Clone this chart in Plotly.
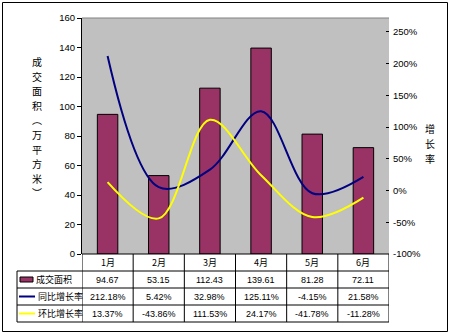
import plotly.graph_objects as go

months = ["1月", "2月", "3月", "4月", "5月", "6月"]
area = [94.67, 53.15, 112.43, 139.61, 81.28, 72.11]
yoy = [212.18, 5.42, 32.98, 125.11, -4.15, 21.58]
mom = [13.37, -43.86, 111.53, 24.17, -41.78, -11.28]
row_names = ["成交面积", "同比增长率", "环比增长率"]
left_title = "成交面积︵万平方米︶"
right_title = "增长率"
left_ticks = [0, 20, 40, 60, 80, 100, 120, 140, 160]
right_ticks = [-100, -50, 0, 50, 100, 150, 200, 250]

W, H = 450, 336
ML, MR, MT, MB = 82, 61, 18, 82
PW, PH = W - ML - MR, H - MT - MB

def px(p):
    return (p - ML) / PW

def py(p):
    return (H - MB - p) / PH

FONT = "Liberation Sans, Arial, Noto Sans CJK SC"
CJK = "Noto Sans CJK SC, Liberation Sans"
BAR_C = "#993366"
BLUE = "#000080"
YEL = "#FFFF00"

fig = go.Figure()
fig.add_trace(go.Bar(x=months, y=area, width=0.4, marker=dict(color=BAR_C, line=dict(color="#000000", width=1)),
                     name=row_names[0], showlegend=False))
fig.add_trace(go.Scatter(x=months, y=yoy, yaxis="y2", mode="lines", line=dict(color=BLUE, width=2, shape="spline", smoothing=1),
                         name=row_names[1], showlegend=False))
fig.add_trace(go.Scatter(x=months, y=mom, yaxis="y2", mode="lines", line=dict(color=YEL, width=2, shape="spline", smoothing=1),
                         name=row_names[2], showlegend=False))

shapes = []
ann = []
# outer border
shapes.append(dict(type="rect", xref="paper", yref="paper", x0=px(2.5), x1=px(447.5), y0=py(2.5), y1=py(331.5),
                   line=dict(color="#000000", width=1), layer="below"))
# plot area top border
shapes.append(dict(type="line", xref="paper", yref="paper", x0=0, x1=1, y0=1, y1=1, line=dict(color="#808080", width=1)))

# table geometry
tbl_left = 17
rows_y = [254, 271, 288, 305, 322]
for i, yy in enumerate(rows_y):
    x0 = ML if i == 0 else tbl_left
    shapes.append(dict(type="line", xref="paper", yref="paper", x0=px(x0), x1=1, y0=py(yy), y1=py(yy),
                       line=dict(color="#000000", width=1)))
shapes.append(dict(type="line", xref="paper", yref="paper", x0=px(tbl_left), x1=px(tbl_left), y0=py(271), y1=py(322),
                   line=dict(color="#000000", width=1)))
for k in range(len(months) + 1):
    shapes.append(dict(type="line", xref="x", yref="paper", x0=k - 0.5, x1=k - 0.5, y0=py(254), y1=py(322),
                       line=dict(color="#000000", width=1)))

vals = [[f"{v:.2f}" for v in area], [f"{v:.2f}%" for v in yoy], [f"{v:.2f}%" for v in mom]]
for i, m in enumerate(months):
    ann.append(dict(x=i, xref="x", y=py(262.5), yref="paper", text=m, showarrow=False,
                    font=dict(family=CJK, size=9, color="#000"), xanchor="center", yanchor="middle"))
    for r in range(3):
        yc = (rows_y[r + 1] + rows_y[r + 2]) / 2
        ann.append(dict(x=i, xref="x", y=py(yc), yref="paper", text=vals[r][i], showarrow=False,
                        font=dict(family=FONT, size=9, color="#000"), xanchor="center", yanchor="middle"))

for r in range(3):
    yc = (rows_y[r + 1] + rows_y[r + 2]) / 2
    if r == 0:
        shapes.append(dict(type="rect", xref="paper", yref="paper", x0=px(20), x1=px(33), y0=py(yc - 2.5), y1=py(yc + 2.5),
                           fillcolor=BAR_C, line=dict(color="#000", width=1)))
        tx = 34
    else:
        shapes.append(dict(type="line", xref="paper", yref="paper", x0=px(19), x1=px(35), y0=py(yc), y1=py(yc),
                           line=dict(color=BLUE if r == 1 else YEL, width=2)))
        tx = 36
    ann.append(dict(x=px(tx), xref="paper", y=py(yc), yref="paper", text=row_names[r], showarrow=False,
                    font=dict(family=CJK, size=9, color="#000"), xanchor="left", yanchor="middle"))

for j, ch in enumerate(left_title):
    ann.append(dict(x=px(36.5), xref="paper", y=py(62 + 14.5 * j), yref="paper", text=ch, showarrow=False,
                    font=dict(family=CJK, size=10, color="#000"), xanchor="center", yanchor="middle"))
for j, ch in enumerate(right_title):
    ann.append(dict(x=px(430), xref="paper", y=py(128 + 15 * j), yref="paper", text=ch, showarrow=False,
                    font=dict(family=CJK, size=10, color="#000"), xanchor="center", yanchor="middle"))

fig.update_layout(
    width=W, height=H,
    margin=dict(l=ML, r=MR, t=MT, b=MB, pad=0),
    paper_bgcolor="#FFFFFF",
    plot_bgcolor="#C0C0C0",
    font=dict(family=FONT, size=9, color="#000000"),
    bargap=0.6,
    xaxis=dict(type="category", range=[-0.5, 5.5], showticklabels=False, ticks="", showgrid=False,
               zeroline=False, showline=False, fixedrange=True),
    yaxis=dict(range=[0, 160], tickvals=left_ticks, ticks="outside", ticklen=4, tickcolor="#000",
               showline=True, linecolor="#000", linewidth=1, showgrid=False, zeroline=False,
               tickfont=dict(size=9.5)),
    yaxis2=dict(range=[-100, 272], overlaying="y", side="right", tickvals=right_ticks,
                ticktext=[f"{t}%" for t in right_ticks], ticks="inside", ticklen=3, tickcolor="#000",
                ticklabelstandoff=3,
                showline=False, showgrid=False, zeroline=False, tickfont=dict(size=9.5)),
    shapes=shapes,
    annotations=ann,
)

fig.write_html("out.html")
